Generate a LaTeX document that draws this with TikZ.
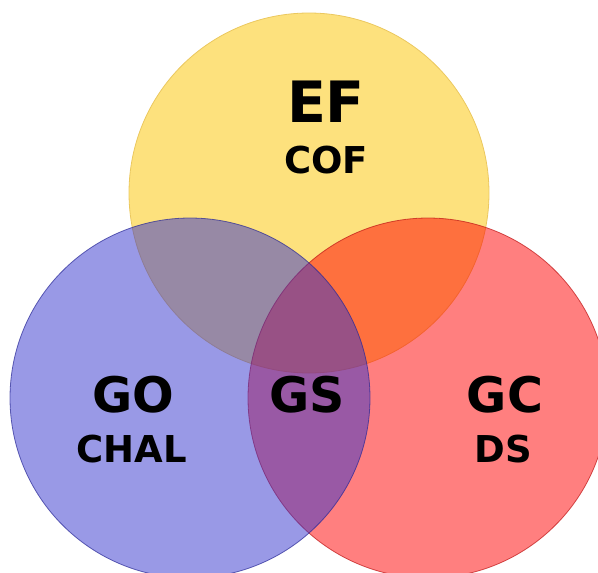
\documentclass[tikz,border=0pt]{standalone}
\usepackage{fontspec}
\setmainfont{DejaVu Sans}
\usepackage{tikz}
\usetikzlibrary{positioning}

\definecolor{efyellow}{RGB}{253,225,125}
\definecolor{efedge}{RGB}{235,200,95}
\definecolor{goblue}{RGB}{51,51,205}
\definecolor{goedge}{RGB}{40,40,150}
\definecolor{gcred}{RGB}{255,0,0}
\definecolor{gcedge}{RGB}{190,20,20}

\tikzset{
    big/.style={font=\bfseries\fontsize{49}{49}\selectfont, inner sep=0pt, anchor=base},
    small/.style={font=\bfseries\fontsize{37}{37}\selectfont, inner sep=0pt, anchor=base},
}

\begin{document}
\begin{tikzpicture}[x=1pt, y=-1pt]
    \useasboundingbox (0,0) rectangle (598,573);

    % Circles
    \draw[fill=efyellow, draw=efedge, line width=0.8pt] (309,193) circle (180pt);
    \draw[fill=gcred, fill opacity=0.5, draw=gcedge, draw opacity=0.7, line width=0.8pt] (428,398) circle (180pt);
    \draw[fill=goblue, fill opacity=0.5, draw=goedge, draw opacity=0.7, line width=0.8pt] (190,398) circle (180pt);

    % Labels
    \node[big, font=\bfseries\fontsize{57}{57}\selectfont] (ef) at (326,122) {EF};
    \node[small] (cof) at (326,173) {COF};
    \node[big] (go) at (133,412) {GO};
    \node[small] (chal) at (132,462) {CHAL};
    \node[big] (gs) at (307,412) {GS};
    \node[big] (gc) at (505,412) {GC};
    \node[small] (ds) at (503,462) {DS};

\end{tikzpicture}
\end{document}
